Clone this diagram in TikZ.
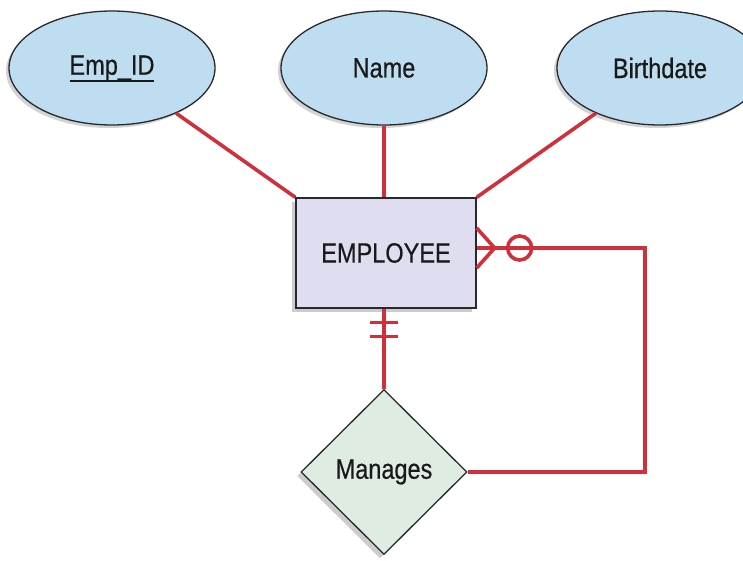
\documentclass[tikz,border=0pt]{standalone}
\usepackage{fontspec}
\setmainfont[FakeStretch=0.84, FakeBold=0.4]{Liberation Sans}
\usepackage{tikz}
\usetikzlibrary{shapes.geometric, shadows, calc}
\definecolor{relc}{RGB}{208,48,58}
\definecolor{attrc}{RGB}{190,221,240}
\definecolor{entc}{RGB}{222,222,240}
\definecolor{relfill}{RGB}{222,236,226}
\definecolor{edgec}{RGB}{40,40,45}
\newcommand{\keyul}[1]{\setbox0\hbox{#1}\rlap{\smash{\rule[-7.5pt]{\wd0}{1.8pt}}}\box0}

\begin{document}
\begin{tikzpicture}[x=1pt,y=-1pt, font=\fontsize{28}{30}\selectfont,
  attr/.style={ellipse, draw=edgec, line width=1.3pt, fill=attrc, minimum width=206pt, minimum height=114pt, inner sep=0pt, text=black!90,
    drop shadow={shadow xshift=-3pt, shadow yshift=-3pt, opacity=0.35}},
  entity/.style={rectangle, draw=edgec, line width=1.3pt, fill=entc, minimum width=180pt, minimum height=110pt, inner sep=0pt, text=black!90,
    drop shadow={shadow xshift=-4pt, shadow yshift=-4pt, opacity=0.4}},
  relship/.style={diamond, draw=edgec, line width=1.3pt, fill=relfill, minimum width=166pt, minimum height=165pt, inner sep=0pt, text=black!90,
    drop shadow={shadow xshift=-4pt, shadow yshift=-4pt, opacity=0.4}},
  link/.style={draw=relc, line width=3.6pt},
]
\useasboundingbox (0,0) rectangle (743,561);
% ---------- attributes ----------
\node[attr] (empid) at (112,68) {\keyul{Emp\_ID}};
\node[attr] (name)  at (384,68) {Name};
\node[attr] (birth) at (660,68) {Birthdate};
% ---------- entity and relationship ----------
\node[entity]  (emp) at (386,253) {EMPLOYEE};
\node[relship] (mgr) at (384,472) {Manages};
% ---------- attribute links ----------
\draw[link] (empid) -- (emp.north west);
\draw[link] (name.south) -- (name.south |- emp.north);
\draw[link] (birth) -- (emp.north east);
% ---------- one and only one (bottom) ----------
\draw[link] (name.south |- emp.south) -- (mgr.north);
\draw[link] ($(name.south |- emp.south)+(-14,14)$) -- ++(28,0);
\draw[link] ($(name.south |- emp.south)+(-14,28)$) -- ++(28,0);
% ---------- zero or many (right, recursive) ----------
\coordinate (fk)   at ([yshift=5pt]emp.east);
\coordinate (foot) at ($(fk)+(18,0)$);
\coordinate (loop) at (645,248);
\draw[link] (fk) -- (loop) |- (mgr.east);
\draw[link] ($(fk)+(0,-20)$) -- (foot) -- ($(fk)+(0,20)$);
\draw[link] ($(fk)+(43,0)$) circle (12);
\end{tikzpicture}
\end{document}
